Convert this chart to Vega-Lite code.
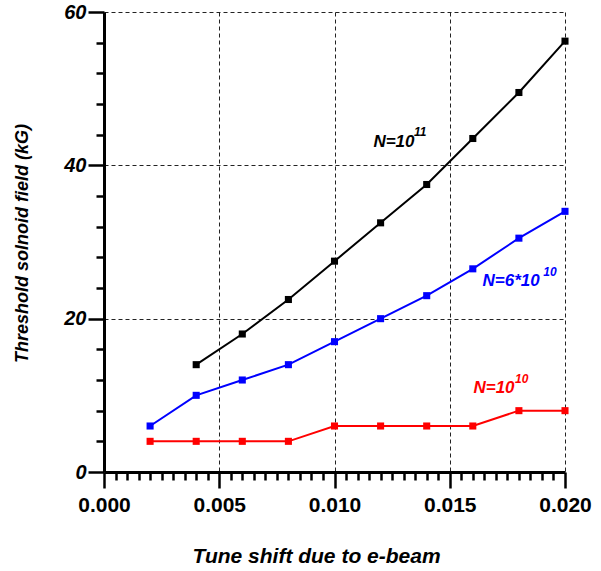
{
  "$schema": "https://vega.github.io/schema/vega-lite/v6.json",
  "width": 461,
  "height": 460,
  "padding": {"left": 13, "top": 2, "right": 0, "bottom": 0},
  "config": {"view": {"stroke": "transparent"}},
  "data": {"values": [
      {"k": "p", "x": 0.004, "y": 14.0, "s": "N=1e11"},
      {"k": "p", "x": 0.006, "y": 18.0, "s": "N=1e11"},
      {"k": "p", "x": 0.008, "y": 22.5, "s": "N=1e11"},
      {"k": "p", "x": 0.010, "y": 27.5, "s": "N=1e11"},
      {"k": "p", "x": 0.012, "y": 32.5, "s": "N=1e11"},
      {"k": "p", "x": 0.014, "y": 37.5, "s": "N=1e11"},
      {"k": "p", "x": 0.016, "y": 43.5, "s": "N=1e11"},
      {"k": "p", "x": 0.018, "y": 49.5, "s": "N=1e11"},
      {"k": "p", "x": 0.020, "y": 56.2, "s": "N=1e11"},
      {"k": "p", "x": 0.002, "y": 6.0, "s": "N=6e10"},
      {"k": "p", "x": 0.004, "y": 10.0, "s": "N=6e10"},
      {"k": "p", "x": 0.006, "y": 12.0, "s": "N=6e10"},
      {"k": "p", "x": 0.008, "y": 14.0, "s": "N=6e10"},
      {"k": "p", "x": 0.010, "y": 17.0, "s": "N=6e10"},
      {"k": "p", "x": 0.012, "y": 20.0, "s": "N=6e10"},
      {"k": "p", "x": 0.014, "y": 23.0, "s": "N=6e10"},
      {"k": "p", "x": 0.016, "y": 26.5, "s": "N=6e10"},
      {"k": "p", "x": 0.018, "y": 30.5, "s": "N=6e10"},
      {"k": "p", "x": 0.020, "y": 34.0, "s": "N=6e10"},
      {"k": "p", "x": 0.002, "y": 4.0, "s": "N=1e10"},
      {"k": "p", "x": 0.004, "y": 4.0, "s": "N=1e10"},
      {"k": "p", "x": 0.006, "y": 4.0, "s": "N=1e10"},
      {"k": "p", "x": 0.008, "y": 4.0, "s": "N=1e10"},
      {"k": "p", "x": 0.010, "y": 6.0, "s": "N=1e10"},
      {"k": "p", "x": 0.012, "y": 6.0, "s": "N=1e10"},
      {"k": "p", "x": 0.014, "y": 6.0, "s": "N=1e10"},
      {"k": "p", "x": 0.016, "y": 6.0, "s": "N=1e10"},
      {"k": "p", "x": 0.018, "y": 8.0, "s": "N=1e10"},
      {"k": "p", "x": 0.020, "y": 8.0, "s": "N=1e10"},
      {"k": "l", "x": 0.01258, "y": 43.0, "t": "N=10", "s": "N=1e11"},
      {"k": "l", "x": 0.01766, "y": 24.9, "t": "N=6*10", "s": "N=6e10"},
      {"k": "l", "x": 0.01692, "y": 11.0, "t": "N=10", "s": "N=1e10"},
      {"k": "u", "x": 0.01372, "y": 44.4, "t": "11", "s": "N=1e11"},
      {"k": "u", "x": 0.01935, "y": 26.1, "t": "10", "s": "N=6e10"},
      {"k": "u", "x": 0.01812, "y": 12.1, "t": "10", "s": "N=1e10"}
  ]},
  "encoding": {
    "x": {
      "field": "x", "type": "quantitative",
      "scale": {"domain": [0, 0.02], "nice": false},
      "axis": {
        "title": "Tune shift due to e-beam",
        "values": [0,0.0005,0.001,0.0015,0.002,0.0025,0.003,0.0035,0.004,0.0045,0.005,0.0055,0.006,0.0065,0.007,0.0075,0.008,0.0085,0.009,0.0095,0.01,0.0105,0.011,0.0115,0.012,0.0125,0.013,0.0135,0.014,0.0145,0.015,0.0155,0.016,0.0165,0.017,0.0175,0.018,0.0185,0.019,0.0195,0.02],
        "labelExpr": "abs(datum.value*200 - round(datum.value*200)) < 1e-6 ? format(datum.value, '.3f') : ''",
        "labelFont": "Liberation Sans", "labelFontWeight": "bold", "labelFontSize": 21, "labelColor": "black",
        "labelPadding": 6, "labelFlush": false, "labelOverlap": false,
        "domainColor": "black", "domainWidth": 3,
        "tickColor": "black", "tickWidth": 2.5,
        "tickSize": {"condition": {"test": "abs(datum.value*200 - round(datum.value*200)) < 1e-6", "value": 16}, "value": 8},
        "grid": true, "gridColor": "#222", "gridWidth": 1, "gridDash": [4, 3],
        "gridOpacity": {"condition": {"test": "abs(datum.value*200 - round(datum.value*200)) < 1e-6 && datum.value > 0.0001", "value": 1}, "value": 0},
        "titleFont": "Liberation Sans", "titleFontWeight": "bold", "titleFontStyle": "italic", "titleFontSize": 21, "titleColor": "black",
        "titleX": 212, "titleY": 90, "titleBaseline": "alphabetic", "titleAlign": "center"
      }
    },
    "y": {
      "field": "y", "type": "quantitative",
      "scale": {"domain": [0, 60], "nice": false},
      "axis": {
        "title": "Threshold solnoid field (kG)",
        "values": [0,4,8,12,16,20,24,28,32,36,40,44,48,52,56,60],
        "labelExpr": "datum.value % 20 === 0 ? format(datum.value, 'd') : ''",
        "labelFont": "Liberation Sans", "labelFontWeight": "bold", "labelFontStyle": "italic", "labelFontSize": 20, "labelColor": "black",
        "labelPadding": 2, "labelOverlap": false, "labelFlush": false,
        "domainColor": "black", "domainWidth": 3,
        "tickColor": "black", "tickWidth": 2.5,
        "tickSize": {"condition": {"test": "datum.value % 20 === 0", "value": 16}, "value": 8},
        "grid": true, "gridColor": "#222", "gridWidth": 1, "gridDash": [4, 3],
        "gridOpacity": {"condition": {"test": "datum.value % 20 === 0 && datum.value > 0", "value": 1}, "value": 0},
        "titleFont": "Liberation Sans", "titleFontWeight": "bold", "titleFontStyle": "italic", "titleFontSize": 18, "titleColor": "black",
        "titleAngle": -90, "titleX": -77, "titleY": 231, "titleBaseline": "alphabetic", "titleAlign": "center"
      }
    },
    "color": {
      "field": "s", "type": "nominal",
      "scale": {"domain": ["N=1e11", "N=6e10", "N=1e10"], "range": ["#000000", "#0000ff", "#ff0000"]},
      "legend": null
    }
  },
  "layer": [
    {
      "transform": [{"filter": "datum.k === 'p'"}],
      "mark": {"type": "line", "strokeWidth": 2},
      "encoding": {"detail": {"field": "s"}}
    },
    {
      "transform": [{"filter": "datum.k === 'p'"}],
      "mark": {"type": "point", "shape": "square", "filled": true, "opacity": 1, "size": 50}
    },
    {
      "transform": [{"filter": "datum.k === 'l'"}],
      "mark": {"type": "text", "font": "Liberation Sans", "fontWeight": "bold", "fontStyle": "italic", "fontSize": 17, "align": "center", "baseline": "middle"},
      "encoding": {"text": {"field": "t"}}
    },
    {
      "transform": [{"filter": "datum.k === 'u'"}],
      "mark": {"type": "text", "font": "Liberation Sans", "fontWeight": "bold", "fontStyle": "italic", "fontSize": 12, "align": "center", "baseline": "middle"},
      "encoding": {"text": {"field": "t"}}
    }
  ]
}
